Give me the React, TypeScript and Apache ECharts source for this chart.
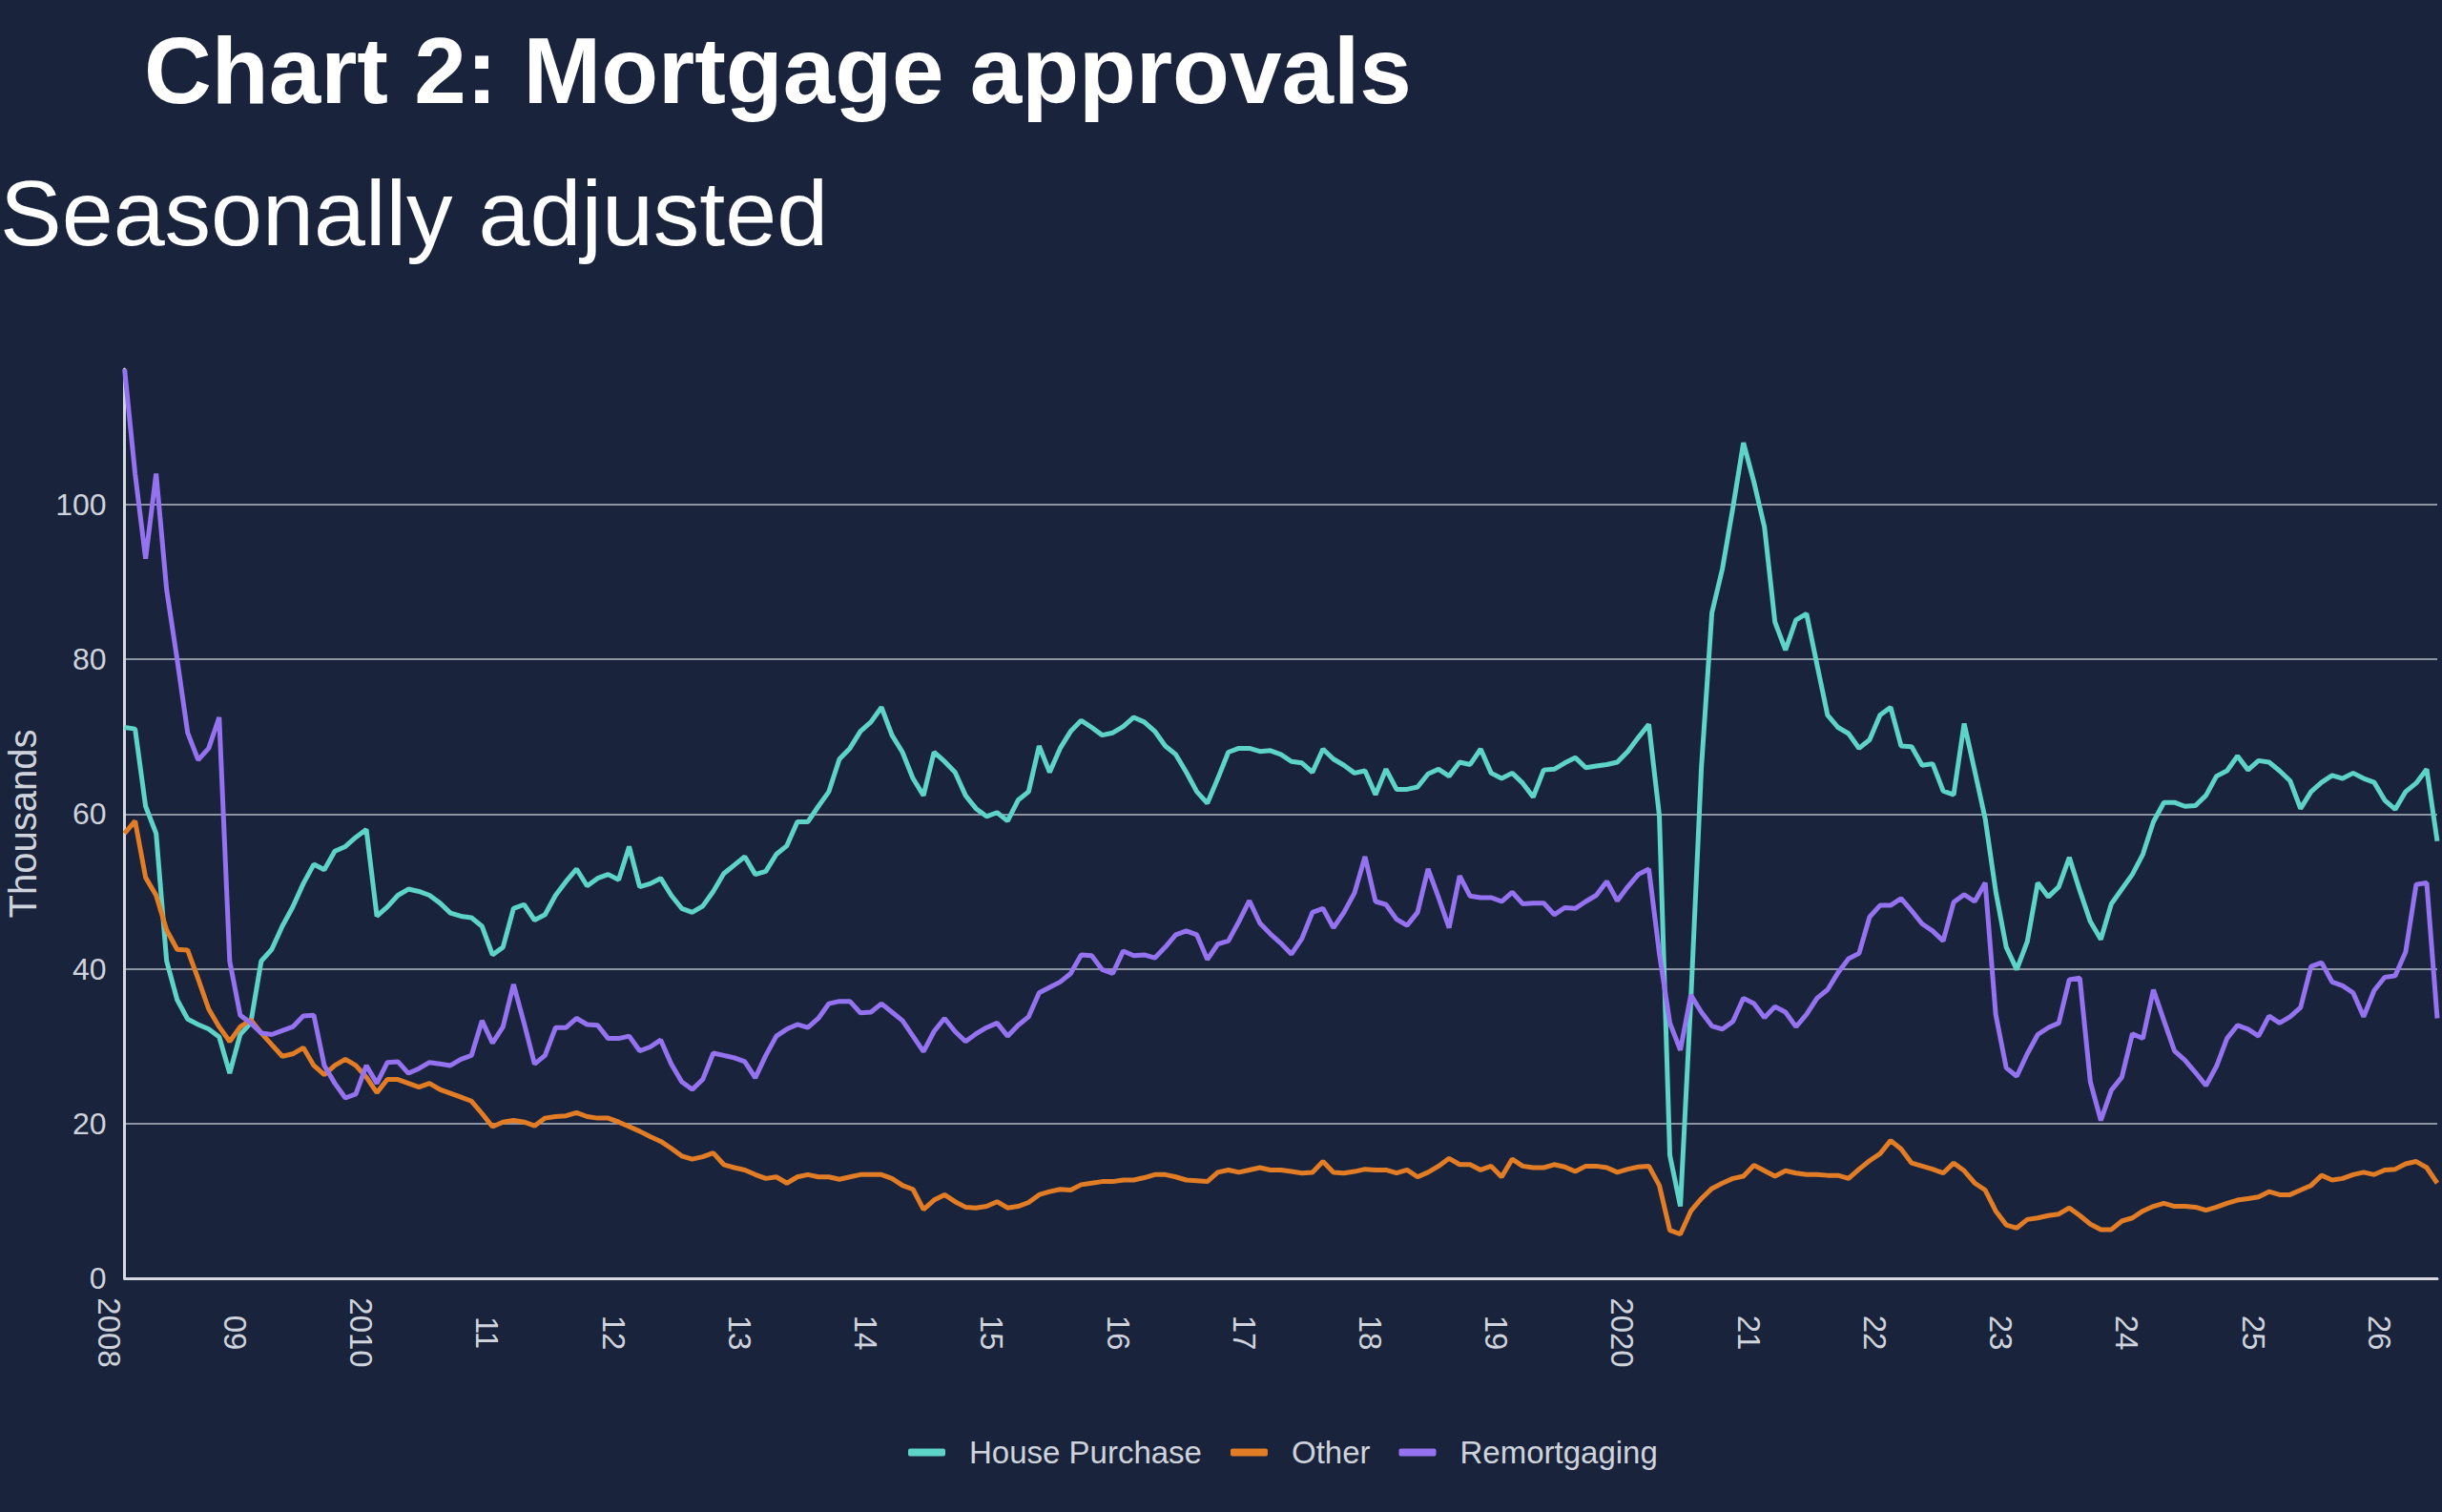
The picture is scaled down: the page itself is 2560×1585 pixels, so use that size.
import React, { useEffect, useRef } from "react";
import * as echarts from "echarts";

const startYear = 2008;
const seriesNames = ["House Purchase", "Other", "Remortgaging"];
const yearLabels = ["2008", "09", "2010", "11", "12", "13", "14", "15", "16", "17", "18", "19", "2020", "21", "22", "23", "24", "25", "26"];
const yTicks = [0, 20, 40, 60, 80, 100];

// Monthly values, thousands, Jan 2008 onwards
const housePurchase = [
  71.2, 71, 61, 57.5, 41, 36, 33.5, 32.8, 32.2, 31.2, 26.5, 31.5,
  33, 41, 42.5, 45.5, 48, 51, 53.5, 52.8, 55.2, 55.8, 57, 58,
  46.8, 48, 49.5, 50.3, 50, 49.5, 48.5, 47.2, 46.8, 46.6, 45.5, 41.8,
  42.8, 47.8, 48.3, 46.3, 47, 49.5, 51.3, 52.9, 50.7, 51.7, 52.2, 51.5,
  55.8, 50.6, 51, 51.7, 49.5, 47.8, 47.3, 48.1, 50, 52.3, 53.4, 54.5,
  52.2, 52.6, 54.8, 55.9, 59, 59, 61, 62.9, 67.1, 68.5, 70.7, 71.9,
  73.8, 70.2, 68, 64.6, 62.4, 68, 66.8, 65.4, 62.4, 60.7, 59.7, 60.2,
  59.1, 61.8, 62.9, 68.8, 65.4, 68.5, 70.7, 72.1, 71.2, 70.2, 70.5, 71.3,
  72.5, 71.9, 70.7, 68.8, 67.7, 65.4, 62.9, 61.4, 64.6, 68, 68.5, 68.5,
  68.1, 68.2, 67.7, 66.8, 66.6, 65.4, 68.4, 67.1, 66.3, 65.3, 65.6, 62.5,
  65.8, 63.2, 63.2, 63.5, 65.2, 65.8, 64.9, 66.7, 66.4, 68.4, 65.3, 64.6,
  65.3, 64, 62.2, 65.7, 65.8, 66.6, 67.3, 66, 66.2, 66.4, 66.7, 68.1,
  69.9, 71.6, 59.8, 15.9, 9.3, 36, 66, 86, 91.7, 99.6, 108, 102.9,
  97.1, 84.8, 81.2, 85.1, 85.9, 79.3, 72.8, 71.2, 70.4, 68.5, 69.6, 72.8,
  73.8, 68.8, 68.7, 66.3, 66.5, 63, 62.5, 71.7, 65.6, 59.4, 50, 42.8,
  39.9, 43.5, 51.1, 49.3, 50.6, 54.4, 50.1, 46.1, 43.8, 48.4, 50.3, 52.2,
  54.8, 59, 61.5, 61.5, 61, 61.1, 62.4, 64.9, 65.6, 67.5, 65.7, 66.9,
  66.7, 65.6, 64.3, 60.7, 62.9, 64.1, 65, 64.6, 65.3, 64.6, 64.1, 61.8,
  60.6, 62.9, 64, 65.8, 56.5,
];

const other = [
  57.5, 59.1, 51.8, 49.5, 45, 42.5, 42.4, 38.7, 34.8, 32.5, 30.6, 32.5,
  33.4, 31.7, 30.2, 28.7, 29, 29.8, 27.5, 26.3, 27.5, 28.3, 27.5, 26,
  24, 25.7, 25.7, 25.2, 24.7, 25.2, 24.4, 23.9, 23.4, 22.9, 21.3, 19.6,
  20.2, 20.4, 20.2, 19.7, 20.7, 20.9, 21, 21.4, 20.9, 20.7, 20.7, 20.2,
  19.6, 19, 18.3, 17.7, 16.8, 15.8, 15.4, 15.7, 16.2, 14.7, 14.3, 14,
  13.4, 12.9, 13.1, 12.3, 13.1, 13.4, 13.1, 13.1, 12.8, 13.1, 13.4, 13.4,
  13.4, 12.9, 12, 11.5, 8.9, 10.1, 10.8, 9.9, 9.2, 9.1, 9.3, 9.9,
  9.1, 9.3, 9.8, 10.8, 11.2, 11.5, 11.4, 12.1, 12.3, 12.5, 12.5, 12.7,
  12.7, 13, 13.4, 13.4, 13.1, 12.7, 12.6, 12.5, 13.7, 14, 13.7, 14,
  14.3, 14, 14, 13.8, 13.6, 13.7, 15.1, 13.7, 13.6, 13.8, 14.1, 14,
  14, 13.6, 14, 13.1, 13.7, 14.5, 15.5, 14.7, 14.7, 14, 14.5, 13.1,
  15.4, 14.5, 14.3, 14.3, 14.7, 14.4, 13.8, 14.5, 14.5, 14.3, 13.7, 14.1,
  14.4, 14.5, 12, 6.2, 5.7, 8.7, 10.3, 11.6, 12.3, 12.9, 13.2, 14.6,
  13.9, 13.2, 13.9, 13.6, 13.4, 13.4, 13.3, 13.3, 12.9, 14.1, 15.2, 16.1,
  17.8, 16.7, 14.9, 14.5, 14.1, 13.6, 14.9, 13.9, 12.3, 11.4, 8.7, 6.9,
  6.5, 7.6, 7.8, 8.1, 8.3, 9.1, 8.1, 7, 6.3, 6.3, 7.4, 7.8,
  8.7, 9.3, 9.7, 9.3, 9.3, 9.2, 8.8, 9.2, 9.7, 10.1, 10.3, 10.5,
  11.2, 10.8, 10.8, 11.4, 12, 13.3, 12.7, 12.9, 13.4, 13.7, 13.4, 14,
  14.1, 14.8, 15.1, 14.3, 12.3,
];

const remortgaging = [
  117.5, 104, 93, 104, 89, 80, 70.5, 67, 68.5, 72.5, 41, 34,
  33, 31.7, 31.5, 32, 32.5, 33.9, 34, 27.5, 25.2, 23.3, 23.8, 27.5,
  25.2, 27.9, 28, 26.5, 27.1, 27.9, 27.7, 27.5, 28.3, 28.8, 33.3, 30.4,
  32.5, 38, 33, 27.7, 28.8, 32.4, 32.4, 33.6, 32.8, 32.7, 31, 31,
  31.3, 29.4, 29.9, 30.8, 27.7, 25.4, 24.4, 25.7, 29.1, 28.8, 28.5, 28,
  25.9, 28.8, 31.3, 32.2, 32.8, 32.4, 33.6, 35.5, 35.8, 35.8, 34.3, 34.4,
  35.5, 34.4, 33.3, 31.3, 29.3, 31.9, 33.6, 31.9, 30.6, 31.6, 32.4, 33,
  31.3, 32.7, 33.8, 36.9, 37.6, 38.3, 39.4, 41.8, 41.7, 39.9, 39.4, 42.3,
  41.7, 41.8, 41.4, 42.8, 44.4, 44.9, 44.4, 41.2, 43.2, 43.6, 46.1, 48.8,
  45.9, 44.5, 43.3, 41.9, 43.9, 47.3, 47.8, 45.3, 47.3, 49.8, 54.5, 48.7,
  48.3, 46.4, 45.6, 47.3, 52.9, 49.2, 45.3, 52, 49.4, 49.2, 49.2, 48.7,
  49.9, 48.4, 48.5, 48.5, 47, 47.9, 47.8, 48.7, 49.5, 51.3, 48.8, 50.6,
  52.2, 52.9, 42, 33, 29.5, 36.6, 34.4, 32.6, 32.2, 33.2, 36.2, 35.5,
  33.7, 35.1, 34.4, 32.5, 34.1, 36.2, 37.3, 39.5, 41.3, 42, 46.7, 48.2,
  48.2, 49.1, 47.5, 45.8, 44.9, 43.6, 48.6, 49.6, 48.7, 51.1, 34.1, 27.2,
  26.1, 29, 31.5, 32.4, 33, 38.6, 38.8, 25.4, 20.4, 24.3, 26, 31.6,
  31, 37.3, 33.3, 29.4, 28.2, 26.6, 24.9, 27.4, 31, 32.7, 32.2, 31.3,
  33.9, 33, 33.8, 35, 40.3, 40.8, 38.3, 37.8, 36.9, 33.8, 37.2, 38.9,
  39.1, 42.2, 50.9, 51.1, 33.6,
];

const seriesValues = [housePurchase, other, remortgaging];
const colors = ["#5ed3c8", "#e27d26", "#9572ef"];

const BG = "#19243c";
const FONT = "'Liberation Sans', Arial, sans-serif";

export default function App() {
  const ref = useRef<HTMLDivElement>(null);

  useEffect(() => {
    if (!ref.current) return;
    const chart = echarts.init(ref.current, undefined, { renderer: "svg" });
    const lastIndex = housePurchase.length - 1;
    chart.setOption({
      animation: false,
      backgroundColor: BG,
      textStyle: { fontFamily: FONT },
      title: [
        {
          text: "Chart 2: Mortgage approvals",
          left: 146,
          top: 20,
          textStyle: { color: "#ffffff", fontSize: 98, fontWeight: "bold", fontFamily: FONT },
        },
        {
          text: "Seasonally adjusted",
          left: -5,
          top: 170,
          textStyle: { color: "#ffffff", fontSize: 97, fontWeight: "normal", fontFamily: FONT },
        },
      ],
      legend: {
        left: 947,
        top: 1501,
        itemWidth: 39,
        itemHeight: 8,
        itemGap: 30,
        icon: "roundRect",
        data: seriesNames,
        textStyle: { color: "#cfd3db", fontSize: 33, padding: [0, 0, 0, 20], fontFamily: FONT },
      },
      grid: {
        left: 130.6,
        right: 5,
        top: 387,
        bottom: 245,
        containLabel: false,
        outerBoundsMode: "none",
      },
      xAxis: {
        type: "value",
        min: 0,
        max: lastIndex,
        interval: 12,
        axisLine: { show: true, lineStyle: { color: "#d5d8df", width: 3 } },
        axisTick: { show: false },
        splitLine: { show: false },
        axisLabel: {
          rotate: -90,
          margin: 57,
          align: "center",
          verticalAlign: "top",
          color: "#cfd3db",
          fontSize: 33,
          fontFamily: FONT,
          showMaxLabel: false,
          formatter: (v: number) => {
            if (v % 12 !== 0) return "";
            const idx = v / 12;
            return yearLabels[idx] ?? String(startYear + idx);
          },
        },
      },
      yAxis: {
        type: "value",
        min: 0,
        max: remortgaging[0],
        interval: 20,
        name: "Thousands",
        nameLocation: "middle",
        nameRotate: 90,
        nameGap: 87,
        nameTextStyle: { color: "#cfd3db", fontSize: 40, fontFamily: FONT },
        axisLine: { show: true, lineStyle: { color: "#d5d8df", width: 3 } },
        axisTick: { show: false },
        axisLabel: {
          color: "#cfd3db",
          fontSize: 32,
          margin: 19,
          fontFamily: FONT,
          showMaxLabel: false,
          formatter: (v: number) => (yTicks.includes(v) ? String(v) : ""),
        },
        splitLine: {
          show: true,
          showMinLine: false,
          showMaxLine: false,
          lineStyle: { color: "#8d94a4", width: 2 },
        },
      },
      series: seriesNames.map((name, s) => ({
        name,
        type: "line",
        symbol: "none",
        color: colors[s],
        lineStyle: { color: colors[s], width: 5 },
        itemStyle: { color: colors[s] },
        data: seriesValues[s].map((v, i) => [i, v]),
      })),
    });
    return () => chart.dispose();
  }, []);

  return (
    <div
      ref={ref}
      style={{ position: "fixed", left: 0, top: 0, width: 2560, height: 1585, background: BG }}
    />
  );
}
